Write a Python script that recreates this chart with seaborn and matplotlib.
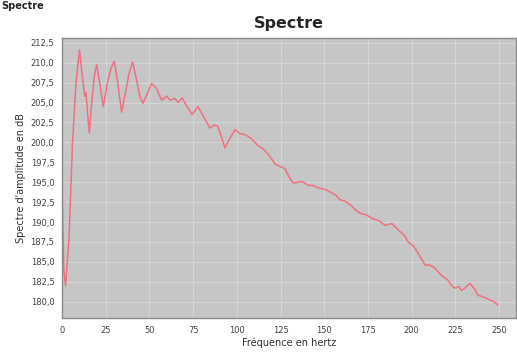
import matplotlib
matplotlib.use("Agg")
import matplotlib.pyplot as plt
import seaborn as sns
import pandas as pd
from matplotlib.ticker import FuncFormatter

freq = [0, 1, 2, 4, 6, 8, 10, 11.5, 13, 13.7, 14.5, 15.6, 17, 18.5, 19.8, 21.5, 23.6,
        26, 28, 29.9, 31.5, 34.1, 36.5, 38.5, 40.4, 42.5, 44.5, 46.2, 48.5, 51.3,
        54, 57, 59.9, 61.8, 64.6, 66.5, 68.6, 71.5, 74.4, 77.8, 81, 84.7, 87, 89.2,
        91.5, 93.2, 96, 99, 101.8, 104.5, 107.6, 110, 112.1, 115, 118, 121.9, 124.5,
        127.6, 130, 132.2, 135, 137.3, 141, 143.5, 146.5, 150.5, 154, 156.5, 159,
        162, 164.8, 167.5, 170.5, 174, 177.9, 181, 184.8, 188.8, 191, 193.4, 196,
        198, 200, 202, 205, 207.7, 210.5, 213.4, 217, 220.8, 223, 224.8, 227, 228.5,
        230.5, 233.4, 236, 238, 241, 244.9, 247, 249.4]
spectre_db = [194.5, 184.0, 182.0, 188.0, 200.0, 207.5, 211.6, 208.5, 205.8, 206.3, 204.0, 201.2,
              205.0, 208.3, 209.8, 207.5, 204.5, 207.5, 209.3, 210.2, 208.0, 203.8,
              206.5, 208.8, 210.1, 208.0, 205.8, 204.9, 206.0, 207.4, 206.8, 205.3,
              205.8, 205.3, 205.5, 205.0, 205.6, 204.5, 203.5, 204.5, 203.2, 201.8,
              202.2, 202.0, 200.5, 199.3, 200.5, 201.6, 201.1, 201.0, 200.6, 200.1,
              199.6, 199.2, 198.5, 197.3, 197.0, 196.7, 195.6, 194.9, 195.0, 195.1,
              194.6, 194.6, 194.3, 194.1, 193.7, 193.4, 192.8, 192.6, 192.2, 191.6,
              191.1, 190.9, 190.4, 190.2, 189.6, 189.8, 189.3, 188.8, 188.3, 187.5,
              187.2, 186.7, 185.6, 184.6, 184.6, 184.2, 183.3, 182.7, 182.0, 181.7,
              181.9, 181.4, 181.7, 182.3, 181.6, 180.8, 180.6, 180.2, 180.0, 179.6]

y_ticks = [180.0, 182.5, 185.0, 187.5, 190.0, 192.5, 195.0, 197.5, 200.0, 202.5,
           205.0, 207.5, 210.0, 212.5]
x_ticks = [0, 25, 50, 75, 100, 125, 150, 175, 200, 225, 250]

df = pd.DataFrame({"freq": freq, "db": spectre_db})

sns.set_style("white")
plt.rcParams["font.family"] = ["DejaVu Sans"]

fig = plt.figure(figsize=(5.17, 3.56), dpi=100)
ax = fig.add_axes([0.12, 0.107, 0.878, 0.786])
ax.set_facecolor("#c6c6c6")

sns.lineplot(data=df, x="freq", y="db", ax=ax, color="#f07080", linewidth=1.1)

ax.set_xlim(0, 259.7)
ax.set_ylim(177.96, 213.1)
ax.set_xticks(x_ticks)
ax.set_yticks(y_ticks)
ax.yaxis.set_major_formatter(FuncFormatter(lambda v, p: f"{v:.1f}".replace(".", ",")))
ax.grid(True, color="#d6d6d6", linewidth=0.7)
ax.tick_params(axis="both", labelsize=6, length=2, color="#808080", labelcolor="#404040")
ax.tick_params(axis="both", which="both", direction="out")
for s in ax.spines.values():
    s.set_color("#8a8a8a")
    s.set_linewidth(1.0)

ax.set_xlabel("Fréquence en hertz", fontsize=7, color="#303030", labelpad=2)
ax.set_ylabel("Spectre d'amplitude en dB", fontsize=7, color="#303030", labelpad=3)
ax.set_title("Spectre", fontsize=11.5, fontweight="bold", pad=7)

fig.text(0.002, 0.998, "Spectre", fontsize=7, fontweight="bold", ha="left", va="top")

fig.savefig("out.png", dpi=100)
